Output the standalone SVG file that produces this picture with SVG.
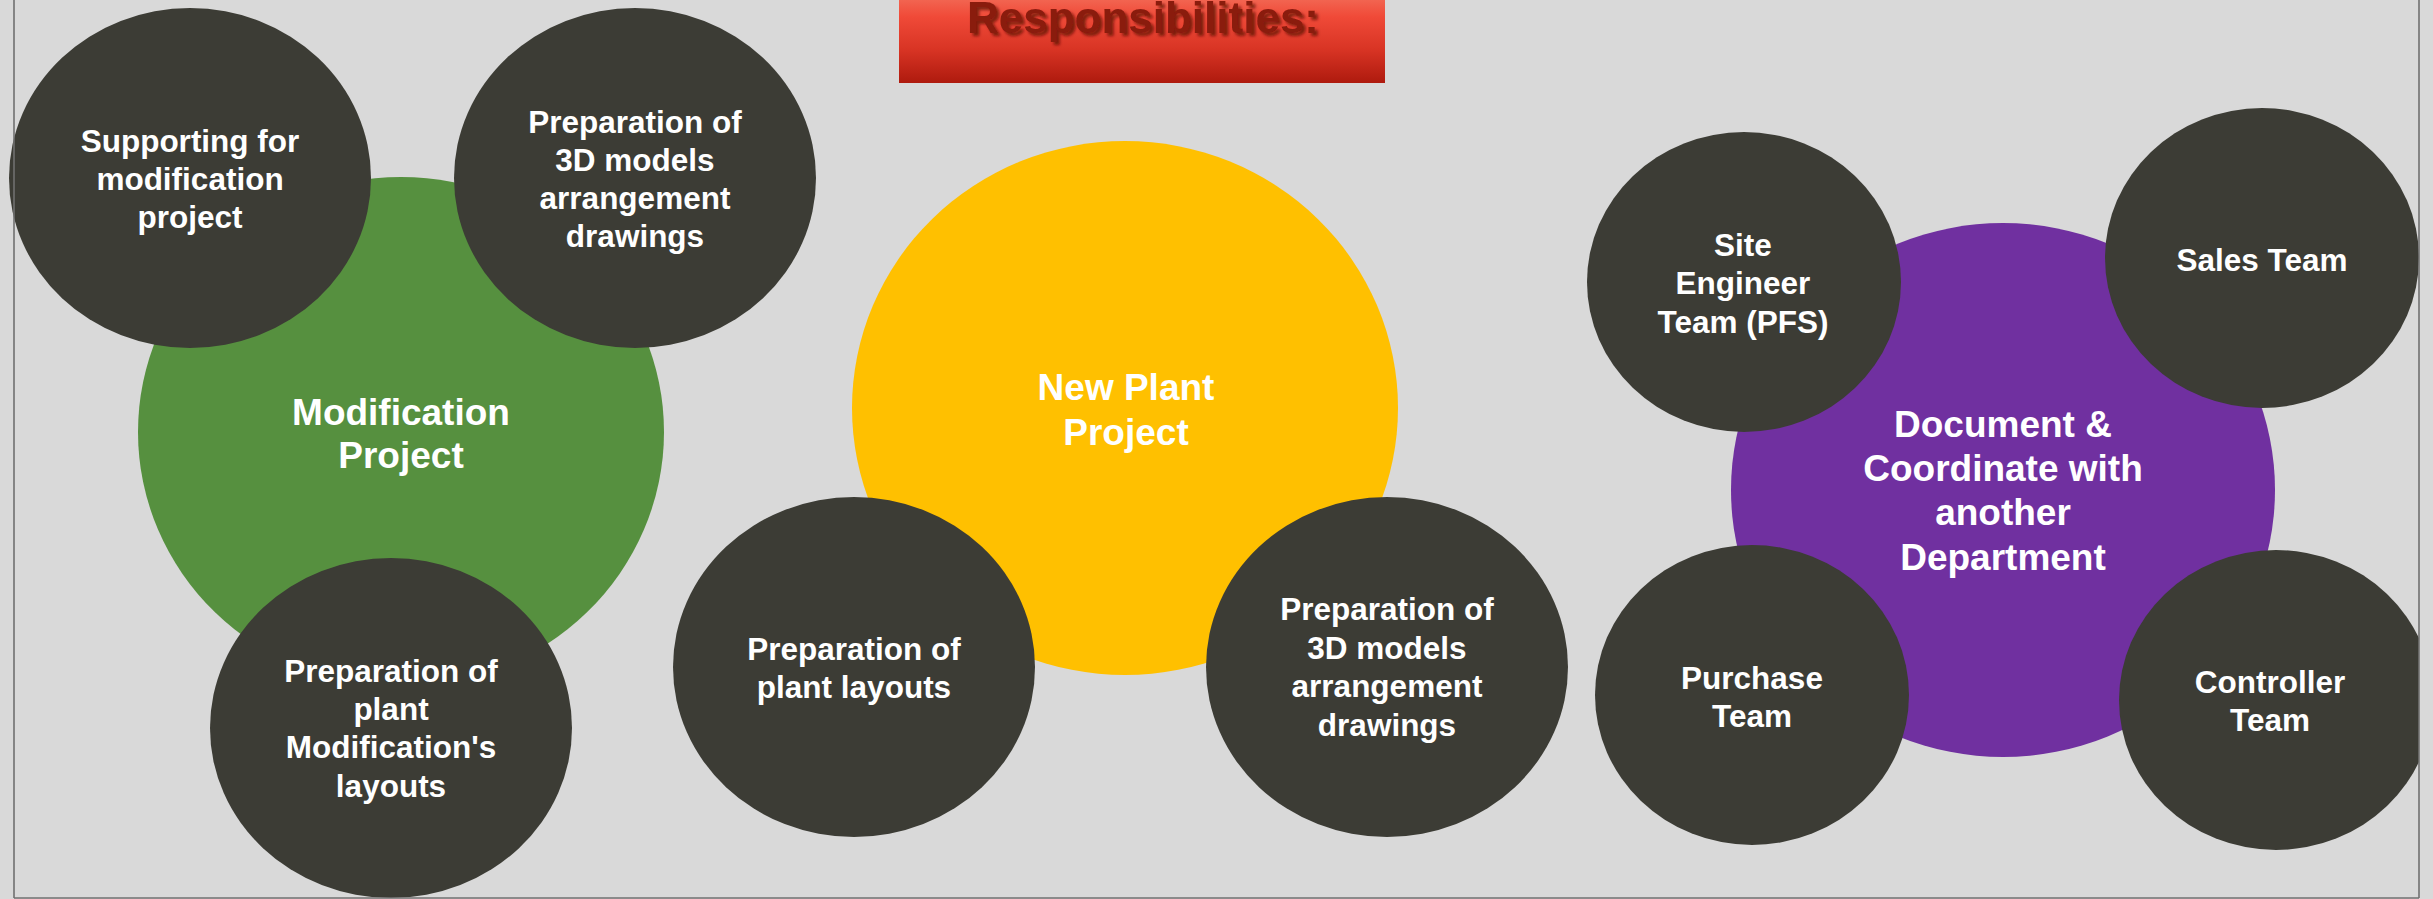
<svg xmlns="http://www.w3.org/2000/svg" width="2433" height="899" viewBox="0 0 2433 899">
<style>
.dk{fill:#3c3c35}
.t{font-family:"Liberation Sans",Arial,sans-serif;font-weight:bold;fill:#ffffff;text-anchor:middle}
.s{font-size:31.5px}
.b{font-size:37px}
.frame{stroke:#707070;stroke-width:1.6;fill:none}
</style>
<defs>
<linearGradient id="tg" x1="0" y1="0" x2="0" y2="1">
<stop offset="0" stop-color="#f26450"/>
<stop offset="0.2" stop-color="#f04a38"/>
<stop offset="0.6" stop-color="#d83424"/>
<stop offset="1" stop-color="#ae1a0e"/>
</linearGradient>
<filter id="sh" x="-10%" y="-30%" width="120%" height="160%">
<feGaussianBlur in="SourceAlpha" stdDeviation="1.5" result="b"/>
<feOffset in="b" dx="3" dy="3" result="o"/>
<feFlood flood-color="#5a0f08" flood-opacity="0.75"/>
<feComposite in2="o" operator="in" result="s"/>
<feMerge><feMergeNode in="s"/><feMergeNode in="SourceGraphic"/></feMerge>
</filter>
<clipPath id="cp"><rect x="-10" y="-10" width="2429" height="920"/></clipPath>
</defs>
<rect x="0" y="0" width="2433" height="899" fill="#d9d9d9"/>
<g clip-path="url(#cp)">
<g id="modification-project">
<ellipse cx="401" cy="432" rx="263" ry="255" fill="#56903f"/>
<text class="t b" x="401"><tspan x="401" y="425">Modification</tspan><tspan x="401" y="468">Project</tspan></text>
</g>
<g id="new-plant-project">
<ellipse cx="1125" cy="408" rx="273" ry="267" fill="#ffc000"/>
<text class="t b"><tspan x="1126" y="400">New Plant</tspan><tspan x="1126" y="445">Project</tspan></text>
</g>
<g id="document-coordinate">
<ellipse cx="2003" cy="490" rx="272" ry="267" fill="#7030a0"/>
<text class="t b"><tspan x="2003" y="437">Document &amp;</tspan><tspan x="2003" y="481">Coordinate with</tspan><tspan x="2003" y="525">another</tspan><tspan x="2003" y="570">Department</tspan></text>
</g>
<g id="supporting-modification">
<ellipse class="dk" cx="190" cy="178" rx="181" ry="170"/>
<text class="t s"><tspan x="190" y="152">Supporting for</tspan><tspan x="190" y="190">modification</tspan><tspan x="190" y="228">project</tspan></text>
</g>
<g id="prep-3d-models-1">
<ellipse class="dk" cx="635" cy="178" rx="181" ry="170"/>
<text class="t s"><tspan x="635" y="133">Preparation of</tspan><tspan x="635" y="171">3D models</tspan><tspan x="635" y="209">arrangement</tspan><tspan x="635" y="247">drawings</tspan></text>
</g>
<g id="prep-modification-layouts">
<ellipse class="dk" cx="391" cy="728" rx="181" ry="170"/>
<text class="t s"><tspan x="391" y="682">Preparation of</tspan><tspan x="391" y="720">plant</tspan><tspan x="391" y="758">Modification's</tspan><tspan x="391" y="797">layouts</tspan></text>
</g>
<g id="prep-plant-layouts">
<ellipse class="dk" cx="854" cy="667" rx="181" ry="170"/>
<text class="t s"><tspan x="854" y="660">Preparation of</tspan><tspan x="854" y="698">plant layouts</tspan></text>
</g>
<g id="prep-3d-models-2">
<ellipse class="dk" cx="1387" cy="667" rx="181" ry="170"/>
<text class="t s"><tspan x="1387" y="620">Preparation of</tspan><tspan x="1387" y="659">3D models</tspan><tspan x="1387" y="697">arrangement</tspan><tspan x="1387" y="736">drawings</tspan></text>
</g>
<g id="site-engineer-team">
<ellipse class="dk" cx="1744" cy="282" rx="157" ry="150"/>
<text class="t s"><tspan x="1743" y="256">Site</tspan><tspan x="1743" y="294">Engineer</tspan><tspan x="1743" y="333">Team (PFS)</tspan></text>
</g>
<g id="sales-team">
<ellipse class="dk" cx="2262" cy="258" rx="157" ry="150"/>
<text class="t s" x="2262" y="271">Sales Team</text>
</g>
<g id="purchase-team">
<ellipse class="dk" cx="1752" cy="695" rx="157" ry="150"/>
<text class="t s"><tspan x="1752" y="689">Purchase</tspan><tspan x="1752" y="727">Team</tspan></text>
</g>
<g id="controller-team">
<ellipse class="dk" cx="2276" cy="700" rx="157" ry="150"/>
<text class="t s"><tspan x="2270" y="693">Controller</tspan><tspan x="2270" y="731">Team</tspan></text>
</g>
</g>
<g id="title">
<rect x="899" y="0" width="486" height="83" fill="url(#tg)"/>
<text x="1143" y="33" filter="url(#sh)" style="font-family:'Liberation Sans',Arial,sans-serif;font-weight:bold;font-size:44px;fill:#8a1a0c;text-anchor:middle">Responsibilities:</text>
</g>
<g id="connectors"/>
<g id="frame">
<line class="frame" x1="14" y1="0" x2="14" y2="898"/>
<line class="frame" x1="2419" y1="0" x2="2419" y2="898"/>
<line class="frame" x1="14" y1="898" x2="2419" y2="898"/>
</g>
</svg>
